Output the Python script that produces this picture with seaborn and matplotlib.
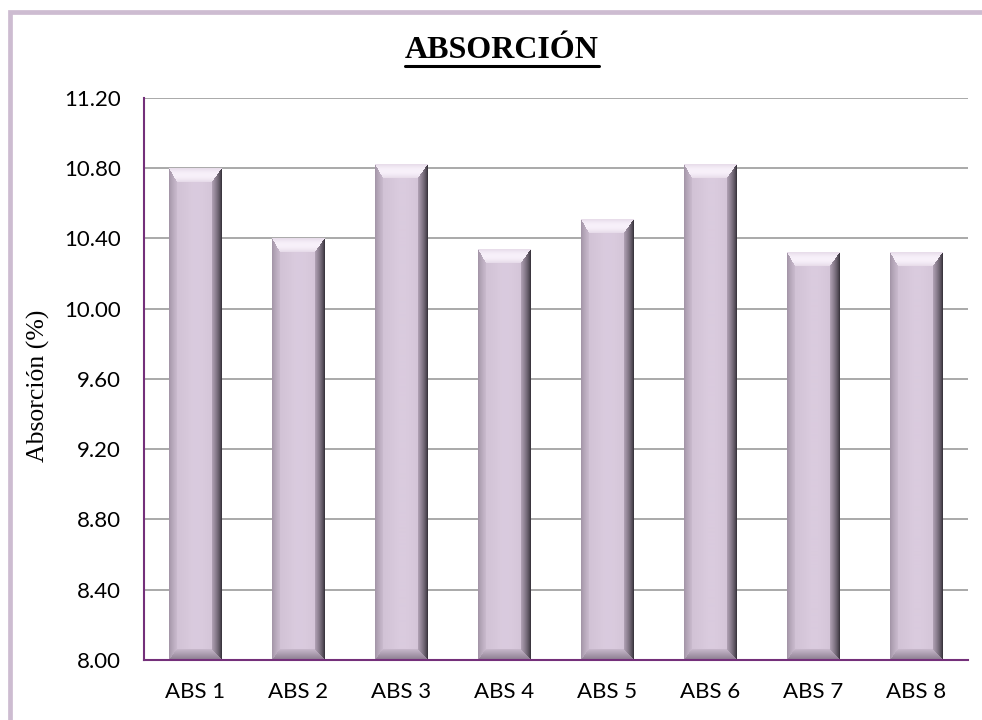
import numpy as np
import pandas as pd
import matplotlib
matplotlib.use("Agg")
import matplotlib.pyplot as plt
import seaborn as sns
from matplotlib.patches import Rectangle
from matplotlib.lines import Line2D
from matplotlib.colors import to_rgb

# ---- data -------------------------------------------------------------
categories = ["ABS 1", "ABS 2", "ABS 3", "ABS 4", "ABS 5", "ABS 6", "ABS 7", "ABS 8"]
absorcion = [10.80, 10.40, 10.82, 10.34, 10.51, 10.82, 10.32, 10.32]
y_ticks = [8.00, 8.40, 8.80, 9.20, 9.60, 10.00, 10.40, 10.80, 11.20]
y_tick_labels = [f"{t:.2f}" for t in y_ticks]

# ---- figure -----------------------------------------------------------
W, H, DPI = 982, 720, 100
sns.set_theme(style="white")
plt.rcParams["font.family"] = ["Lato", "DejaVu Sans"]

fig = plt.figure(figsize=(W / DPI, H / DPI), dpi=DPI)
fig.patch.set_facecolor("white")
ax_left, ax_right, ax_top, ax_bottom = 144, 968, 98, 660
ax = fig.add_axes([ax_left / W, 1 - ax_bottom / H,
                   (ax_right - ax_left) / W, (ax_bottom - ax_top) / H])

df = pd.DataFrame({"muestra": categories, "absorcion": absorcion})
BAR_W = 0.51
sns.barplot(data=df, x="muestra", y="absorcion", color="#D7C8DB",
            saturation=1, width=BAR_W, ax=ax, zorder=2, edgecolor="none")

Y0, Y1 = 8.0, 11.2
ax.set_ylim(Y0, Y1)
ax.set_xlim(-0.5, len(categories) - 0.5)
ax.set_yticks(y_ticks)
ax.set_yticklabels(y_tick_labels)
ax.set_xlabel("")
ax.set_ylabel("")
ax.yaxis.grid(True, color="#A3A3A3", lw=1.3, zorder=0)
ax.xaxis.grid(False)
ax.set_axisbelow(True)
ax.set_facecolor("white")

for side in ("top", "right"):
    ax.spines[side].set_visible(False)
for side in ("left", "bottom"):
    ax.spines[side].set_color("#74307A")
    ax.spines[side].set_linewidth(1.5)
    ax.spines[side].set_zorder(5)

ax.tick_params(axis="both", length=0, labelsize=16, colors="black")
ax.tick_params(axis="y", pad=16.5)
ax.tick_params(axis="x", pad=16)

# ---- bevelled bar shading ---------------------------------------------
px_x = (ax_right - ax_left) / len(categories)
px_y = (ax_bottom - ax_top) / (Y1 - Y0)


def lerp(c0, c1, t):
    c0 = np.array(to_rgb(c0))
    c1 = np.array(to_rgb(c1))
    t = np.clip(t, 0, 1)[..., None]
    return c0 * (1 - t) + c1 * t


def bevel_image(wp, hp):
    j = np.arange(wp)[None, :] + 0.5
    i = np.arange(hp)[:, None] + 0.5
    bl, br, bt, bb = 8.0, 10.0, 14.0, 11.0
    nl = np.broadcast_to(j / bl, (hp, wp))
    nr = np.broadcast_to((wp - j) / br, (hp, wp))
    nt = np.broadcast_to(i / bt, (hp, wp))
    nb = np.broadcast_to((hp - i) / bb, (hp, wp))
    stack = np.stack([nl, nr, nt, nb])
    region = stack.argmin(0)
    n = stack.min(0)

    xf = np.broadcast_to(j / wp, (hp, wp))
    face = lerp("#CDBED1", "#DACBDE", np.clip(xf * 2.2, 0, 1))
    face = np.where((xf > 0.6)[..., None],
                    lerp("#DACBDE", "#CFC0D3", (xf - 0.6) / 0.4), face)

    left = lerp("#A092A4", "#CABBCE", n ** 0.8)
    right = lerp("#2B272F", "#B1A2B5", n ** 0.7)
    top = lerp("#E4D8E7", "#F8F1FA", np.sin(np.pi * np.clip(n, 0, 1)) * 0.9 + 0.1)
    bottom = lerp("#8A7C8E", "#C8B9CC", n)

    img = face.copy()
    inside = n < 1
    for k, col in enumerate([left, right, top, bottom]):
        m = inside & (region == k)
        img[m] = col[m]
    return img


for patch, val in zip(ax.patches, absorcion):
    x0 = patch.get_x()
    x1 = x0 + patch.get_width()
    wp = max(int(round(patch.get_width() * px_x)), 4)
    hp = max(int(round((val - Y0) * px_y)), 4)
    ax.imshow(bevel_image(wp, hp), extent=(x0, x1, Y0, val), aspect="auto",
              interpolation="bilinear", zorder=3)

ax.set_xlim(-0.5, len(categories) - 0.5)
ax.set_ylim(Y0, Y1)

# ---- texts ------------------------------------------------------------
fig.text(38 / W, 1 - 386 / H, "Absorción (%)", rotation=90,
         family=["Liberation Serif", "DejaVu Serif"], fontsize=18.5,
         ha="center", va="center", color="black")

title = fig.text(502 / W, 1 - 51 / H, "ABSORCIÓN",
                 family=["Liberation Serif", "DejaVu Serif"], fontsize=23,
                 fontweight="bold", ha="center", va="center", color="black")

# chart frame
fig.patches.append(Rectangle((10 / W, -0.05), 1.2, 1 - 11.5 / H + 0.05,
                             transform=fig.transFigure, fill=False,
                             edgecolor="#CDBCD1", linewidth=3.4,
                             zorder=0))

# underline under the title
fig.canvas.draw()
bb = title.get_window_extent(fig.canvas.get_renderer())
uy = 1 - 65.5 / H
fig.add_artist(Line2D([bb.x0 / W, bb.x1 / W], [uy, uy], transform=fig.transFigure,
                      color="black", linewidth=2.2))

fig.savefig("out.png", dpi=DPI, facecolor="white")
